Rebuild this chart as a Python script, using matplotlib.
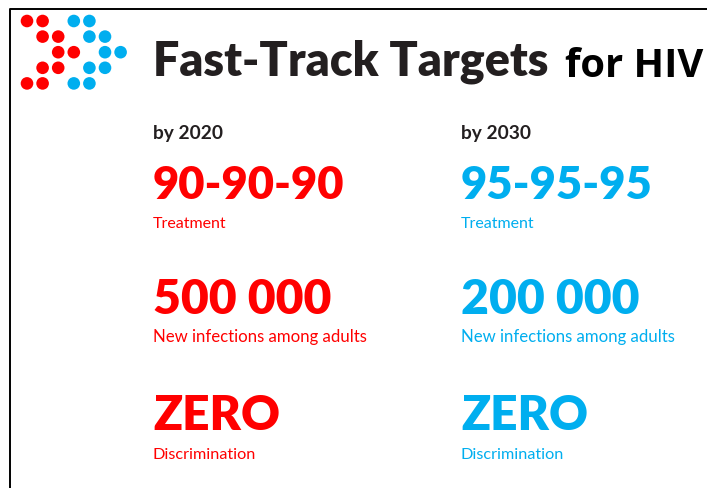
import matplotlib
matplotlib.use("Agg")
import matplotlib.pyplot as plt
from matplotlib.patches import Circle

# ---------------- data ----------------
title_main = "Fast-Track Targets"
title_tail = "for HIV"
years = ["by 2020", "by 2030"]
treatment_targets = ["90-90-90", "95-95-95"]
new_infections = ["500 000", "200 000"]
discrimination = ["ZERO", "ZERO"]
row_labels = ["Treatment", "New infections among adults", "Discrimination"]

# logo dots on a grid (row index, column index)
red_rows = [0, 0, 1, 1, 2, 2, 3, 3, 4, 4]
red_cols = [0, 1, 1, 2, 2, 3, 1, 2, 0, 1]
blue_rows = [0, 0, 1, 1, 2, 2, 3, 3, 4, 4]
blue_cols = [3, 4, 4, 5, 5, 6, 4, 5, 3, 4]

RED = "#FF0000"
BLUE = "#00AEEF"
DARK = "#231F20"

W, H = 707, 489
fig = plt.figure(figsize=(W / 100, H / 100), dpi=100)
ax = fig.add_axes([0, 0, 1, 1])
ax.set_xlim(0, W)
ax.set_ylim(H, 0)
ax.axis("off")

# frame (left and top only)
ax.plot([10, 10, W], [H, 10, 10], color="black", lw=1.4, solid_capstyle="butt")

# logo
gx0, gy0, step, rad = 27, 22, 15.6, 6.3
for rows, cols, c in [(red_rows, red_cols, RED), (blue_rows, blue_cols, BLUE)]:
    for r, cc in zip(rows, cols):
        ax.add_patch(Circle((gx0 + cc * step, gy0 + r * step), rad, color=c, lw=0))

renderer = fig.canvas.get_renderer()


def fit_text(x, y, s, target_w, **kw):
    t = ax.text(x, y, s, fontsize=20, va="baseline", ha="left", **kw)
    w = t.get_window_extent(renderer).width
    t.set_fontsize(20 * target_w / w)
    return t


fit_text(153, 76, title_main, 396, color=DARK, family="Lato", fontweight="heavy")
fit_text(565, 77, title_tail, 138, color="black", family="Open Sans", fontweight="bold")

col_x = [153, 461]
col_c = [RED, BLUE]
for i in range(2):
    x = col_x[i]
    c = col_c[i]
    fit_text(x, 139, years[i], 70, color=DARK, family="Lato", fontweight="bold")
    fit_text(x, 199, treatment_targets[i], 192, color=c, family="Lato", fontweight="heavy")
    fit_text(x, 228, row_labels[0], 74, color=c, family="Lato")
    fit_text(x, 314, new_infections[i], 177, color=c, family="Lato", fontweight="heavy")
    fit_text(x, 342, row_labels[1], 214, color=c, family="Lato")
    fit_text(x, 430, discrimination[i], 127, color=c, family="Lato", fontweight="heavy")
    fit_text(x, 459, row_labels[2], 104, color=c, family="Lato")

fig.savefig("out.png", dpi=100)
